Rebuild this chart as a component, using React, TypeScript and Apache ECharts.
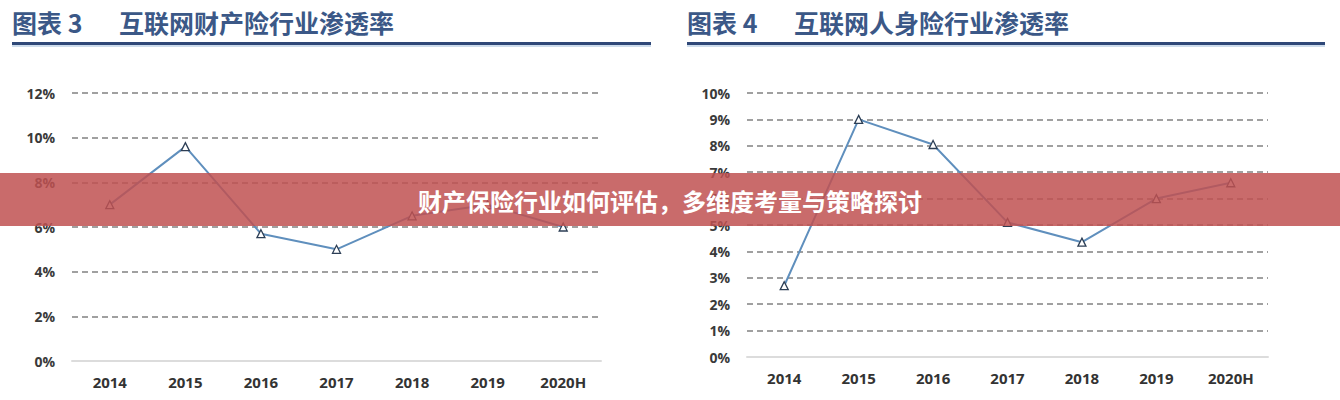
import React, { useEffect, useRef } from "react";
import * as echarts from "echarts";

const categories = ["2014", "2015", "2016", "2017", "2018", "2019", "2020H"];
const propertyRates = [7.0, 9.6, 5.7, 5.0, 6.5, 7.0, 6.0];
const lifeRates = [2.7, 9.0, 8.05, 5.1, 4.35, 6.0, 6.6];
const leftLabel = "图表 3";
const leftTitle = "互联网财产险行业渗透率";
const rightLabel = "图表 4";
const rightTitle = "互联网人身险行业渗透率";
const bannerText = "财产保险行业如何评估，多维度考量与策略探讨";

const gridColors = (n: number) => {
  const arr: string[] = ["rgba(0,0,0,0)"];
  for (let i = 1; i < n; i++) arr.push("#a0a0a0");
  return arr;
};

export default function App() {
  const ref = useRef<HTMLDivElement>(null);
  useEffect(() => {
    if (!ref.current) return;
    const chart = echarts.init(ref.current, undefined, { renderer: "svg" });
    const axisLabelY = {
      color: "#3a3a3a",
      fontSize: 14,
      fontWeight: "bold" as const,
      fontFamily: "Open Sans",
      margin: 17,
      formatter: "{value}%",
    };
    const axisLabelX = {
      color: "#333",
      fontSize: 15,
      fontWeight: "bold" as const,
      fontFamily: "Open Sans",
      margin: 13,
    };
    const series = (data: number[], idx: number) => ({
      type: "line",
      xAxisIndex: idx,
      yAxisIndex: idx,
      data,
      symbol: "triangle",
      symbolSize: 8,
      lineStyle: { color: "#5f8fbd", width: 2 },
      itemStyle: { color: "#ffffff", borderColor: "#2c3e55", borderWidth: 1.3 },
      z: 3,
    });
    const titleStyle = {
      fill: "#3b5887",
      fontSize: 25,
      fontWeight: "bold",
      fontFamily: "Noto Sans CJK SC",
    };
    chart.setOption({
      animation: false,
      backgroundColor: "#ffffff",
      grid: [
        { left: 72, top: 93, width: 529, height: 268 },
        { left: 747, top: 93, width: 521, height: 264 },
      ],
      xAxis: [0, 1].map((i) => ({
        type: "category",
        gridIndex: i,
        data: categories,
        boundaryGap: true,
        axisLine: { show: true, lineStyle: { color: "#dcdcdc", width: 2 } },
        axisTick: { show: false },
        axisLabel: axisLabelX,
      })),
      yAxis: [
        {
          type: "value",
          gridIndex: 0,
          min: 0,
          max: 12,
          interval: 2,
          axisLine: { show: false },
          axisTick: { show: false },
          axisLabel: axisLabelY,
          splitLine: {
            lineStyle: { color: gridColors(7), width: 2, type: [6, 4] },
          },
        },
        {
          type: "value",
          gridIndex: 1,
          min: 0,
          max: 10,
          interval: 1,
          axisLine: { show: false },
          axisTick: { show: false },
          axisLabel: axisLabelY,
          splitLine: {
            lineStyle: { color: gridColors(11), width: 2, type: [6, 4] },
          },
        },
      ],
      series: [series(propertyRates, 0), series(lifeRates, 1)],
      graphic: [
        { type: "text", x: 12, y: 9, style: { ...titleStyle, text: leftLabel } },
        { type: "text", x: 119, y: 9, style: { ...titleStyle, text: leftTitle } },
        { type: "text", x: 687, y: 9, style: { ...titleStyle, text: rightLabel } },
        { type: "text", x: 794, y: 9, style: { ...titleStyle, text: rightTitle } },
        { type: "line", shape: { x1: 12, y1: 43.5, x2: 651, y2: 43.5 }, style: { stroke: "#2f4878", lineWidth: 3 } },
        { type: "line", shape: { x1: 12, y1: 46, x2: 651, y2: 46 }, style: { stroke: "#bcd0e6", lineWidth: 1.5 } },
        { type: "line", shape: { x1: 687, y1: 43.5, x2: 1325, y2: 43.5 }, style: { stroke: "#2f4878", lineWidth: 3 } },
        { type: "line", shape: { x1: 687, y1: 46, x2: 1325, y2: 46 }, style: { stroke: "#bcd0e6", lineWidth: 1.5 } },
        {
          type: "rect",
          z: 100,
          shape: { x: 0, y: 173, width: 1340, height: 53 },
          style: { fill: "rgba(191,81,81,0.85)" },
        },
        {
          type: "text",
          z: 101,
          x: 670,
          y: 200,
          style: {
            text: bannerText,
            fill: "#ffffff",
            fontSize: 24,
            fontWeight: "bold",
            fontFamily: "Noto Sans CJK SC",
            align: "center",
            verticalAlign: "middle",
          },
        },
      ],
    });
    return () => chart.dispose();
  }, []);
  return (
    <div
      ref={ref}
      style={{ position: "fixed", left: 0, top: 0, width: 1340, height: 400 }}
    />
  );
}
